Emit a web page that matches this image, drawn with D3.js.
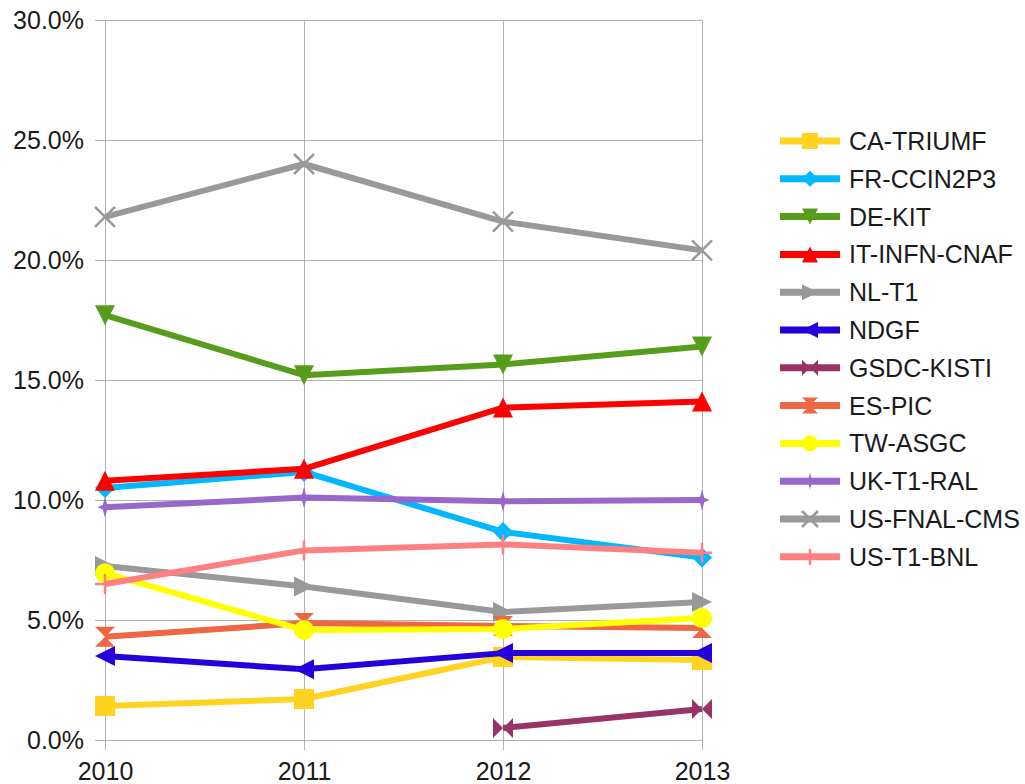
<!DOCTYPE html>
<html><head><meta charset="utf-8">
<script src="https://cdn.jsdelivr.net/npm/d3@7"></script>
<style>body{margin:0;background:#fff}svg{display:block}text{font-family:"Liberation Sans",Arial,sans-serif;fill:#1a1a1a}</style>
</head><body><svg id="c" width="1025" height="784"></svg>
<script>
const years = ["2010","2011","2012","2013"];
const yTicks = [0,5,10,15,20,25,30];
const seriesNames = ["CA-TRIUMF","FR-CCIN2P3","DE-KIT","IT-INFN-CNAF","NL-T1","NDGF","GSDC-KISTI","ES-PIC","TW-ASGC","UK-T1-RAL","US-FNAL-CMS","US-T1-BNL"];
const caTriumf  = [1.42, 1.71, 3.46, 3.33];
const frCcin2p3 = [10.5, 11.17, 8.67, 7.6];
const deKit     = [17.7, 15.2, 15.65, 16.4];
const itInfn    = [10.8, 11.3, 13.85, 14.1];
const nlT1      = [7.25, 6.4, 5.33, 5.75];
const ndgf      = [3.5, 2.95, 3.62, 3.62];
const gsdcKisti = [null, null, 0.5, 1.29];
const esPic     = [4.3, 4.87, 4.75, 4.67];
const twAsgc    = [6.95, 4.58, 4.62, 5.08];
const ukRal     = [9.7, 10.1, 9.95, 10.0];
const usFnal    = [21.8, 24.0, 21.6, 20.4];
const usBnl     = [6.5, 7.9, 8.15, 7.8];
const seriesValues = [caTriumf, frCcin2p3, deKit, itInfn, nlT1, ndgf, gsdcKisti, esPic, twAsgc, ukRal, usFnal, usBnl];
const colors = ["#ffd320","#00b8ff","#579d1c","#ff0000","#999999","#2300dc","#993366","#ee6644","#ffff00","#9966cc","#999999","#ff8080"];
const shapes = ["square","diamond","down","up","right","left","bowtie","hourglass","circle","star","x","plus"];

const svg = d3.select("#c");
const x = d3.scalePoint().domain(years).range([105, 702]);
const y = d3.scaleLinear().domain([0, 30]).range([740, 20]);
const grid = "#b3b3b3";

// horizontal gridlines + y axis
const yAxis = d3.axisLeft(y).tickValues(yTicks).tickSize(10).tickFormat(d => d.toFixed(1) + "%");
const ga = svg.append("g").attr("transform", "translate(105,0)").call(yAxis);
ga.select(".domain").attr("stroke", grid);
ga.selectAll(".tick line").attr("stroke", grid);
ga.selectAll(".tick text").attr("font-size", 25).attr("x", -21).attr("dy", "0.35em").style("font-family", '"Liberation Sans",Arial,sans-serif').attr("fill","#1a1a1a");
svg.append("g").selectAll("line").data(yTicks).join("line")
  .attr("x1", 105).attr("x2", 702).attr("y1", d => y(d)).attr("y2", d => y(d))
  .attr("stroke", grid).attr("stroke-width", 1).attr("shape-rendering","crispEdges");
// vertical gridlines
svg.append("g").selectAll("line").data(years.slice(1)).join("line")
  .attr("x1", d => x(d)).attr("x2", d => x(d)).attr("y1", 20).attr("y2", 740)
  .attr("stroke", grid).attr("shape-rendering","crispEdges");
// x axis
const xAxis = d3.axisBottom(x).tickSize(10).tickPadding(12);
const gx = svg.append("g").attr("transform", "translate(0,740)").call(xAxis);
gx.select(".domain").attr("stroke", grid).attr("d", "M95,0.5H702");
gx.selectAll(".tick line").attr("stroke", grid);
gx.selectAll(".tick text").attr("font-size", 25).style("font-family", '"Liberation Sans",Arial,sans-serif').attr("fill","#1a1a1a");

function markerPath(shape, h) {
  const p = d3.path();
  switch (shape) {
    case "square": p.rect(-h,-h,2*h,2*h); break;
    case "diamond": p.moveTo(0,-h); p.lineTo(h,0); p.lineTo(0,h); p.lineTo(-h,0); p.closePath(); break;
    case "down": p.moveTo(-h,-h); p.lineTo(h,-h); p.lineTo(0,h); p.closePath(); break;
    case "up": p.moveTo(-h,h); p.lineTo(h,h); p.lineTo(0,-h); p.closePath(); break;
    case "right": p.moveTo(-h,-h); p.lineTo(h,0); p.lineTo(-h,h); p.closePath(); break;
    case "left": p.moveTo(h,-h); p.lineTo(-h,0); p.lineTo(h,h); p.closePath(); break;
    case "bowtie": p.moveTo(-h,-h); p.lineTo(0,0); p.lineTo(-h,h); p.closePath(); p.moveTo(h,-h); p.lineTo(0,0); p.lineTo(h,h); p.closePath(); break;
    case "hourglass": p.moveTo(-h,-h); p.lineTo(h,-h); p.lineTo(0,0); p.closePath(); p.moveTo(-h,h); p.lineTo(h,h); p.lineTo(0,0); p.closePath(); break;
    case "circle": p.arc(0,0,h,0,2*Math.PI); break;
    case "star": { const w = h*0.22; p.moveTo(0,-h*1.05); p.lineTo(w,-w); p.lineTo(h*0.75,0); p.lineTo(w,w); p.lineTo(0,h*1.05); p.lineTo(-w,w); p.lineTo(-h*0.75,0); p.lineTo(-w,-w); p.closePath(); break; }
    case "x": p.moveTo(-h,-h); p.lineTo(h,h); p.moveTo(h,-h); p.lineTo(-h,h); break;
    case "plus": p.moveTo(0,-h); p.lineTo(0,h); p.moveTo(-h,0); p.lineTo(h,0); break;
  }
  return p.toString();
}
function drawMarker(g, shape, color, h) {
  const stroked = shape === "x" || shape === "plus";
  g.append("path").attr("d", markerPath(shape, h))
    .attr("fill", stroked ? "none" : color)
    .attr("stroke", stroked ? color : "none")
    .attr("stroke-width", stroked ? 2.5 : 0);
}

const line = d3.line().defined(d => d.v !== null).x(d => x(d.year)).y(d => y(d.v));
seriesNames.forEach((name, i) => {
  const pts = years.map((yr, j) => ({year: yr, v: seriesValues[i][j]}));
  const g = svg.append("g");
  g.append("path").datum(pts).attr("d", line).attr("fill","none")
    .attr("stroke", colors[i]).attr("stroke-width", 6).attr("stroke-linejoin","round");
  pts.filter(d => d.v !== null).forEach(d => {
    const m = g.append("g").attr("transform", `translate(${x(d.year)},${y(d.v)})`);
    drawMarker(m, shapes[i], colors[i], 10);
  });
});

// legend
const legend = svg.append("g");
seriesNames.forEach((name, i) => {
  const ly = 141 + i * 37.8;
  const g = legend.append("g").attr("transform", `translate(0,${ly})`);
  g.append("line").attr("x1", 780).attr("x2", 840).attr("y1", 0).attr("y2", 0)
    .attr("stroke", colors[i]).attr("stroke-width", 7);
  const m = g.append("g").attr("transform", "translate(810,0)");
  drawMarker(m, shapes[i], colors[i], 8);
  g.append("text").attr("x", 849).attr("y", 0).attr("dy", "0.36em").attr("font-size", 25).text(name);
});
</script></body></html>
